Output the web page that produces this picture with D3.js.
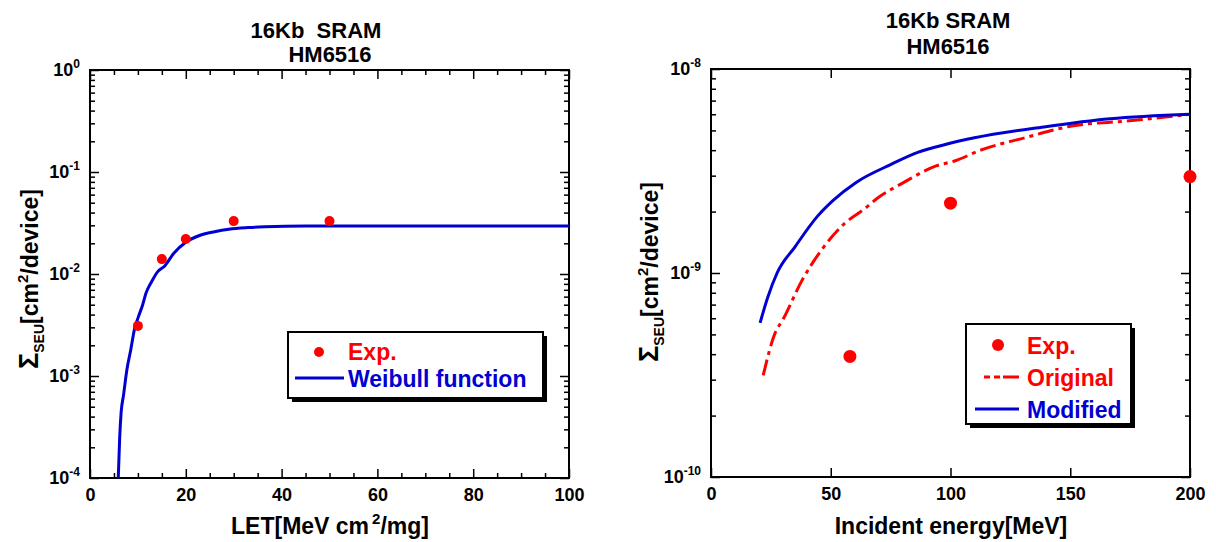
<html>
<head>
    <script src="https://d3js.org/d3.v7.min.js"></script>
    <style>
        body { margin: 0; background: #fff; }
        text { font-family: "Liberation Sans", Arial, sans-serif; font-weight: bold; }
        .tick line { stroke: #000; stroke-width: 1.5; }
        .domain { stroke: none; }
    </style>
</head>
<body>
<svg id="chartArea" width="1216" height="542"></svg>
<script>
    // ---- left panel data (LET vs cross section)
    const letExp = [10, 15, 20, 30, 50];
    const sigmaExp = [3.1e-3, 1.4e-2, 2.2e-2, 3.3e-2, 3.3e-2];
    const letWeibull = [5.9, 6.2, 6.5, 7, 7.7, 8.5, 9.3, 10.1, 11, 11.7, 12.8, 14.1, 15.6, 17.5, 20, 23, 26, 29, 33, 36.5, 45, 100];
    const sigmaWeibull = [1e-4, 2.5e-4, 4.4e-4, 6.5e-4, 1.15e-3, 1.8e-3, 2.9e-3, 3.8e-3, 5e-3, 6.5e-3, 8.3e-3, 1.05e-2, 1.2e-2, 1.6e-2, 2.05e-2, 2.4e-2, 2.6e-2, 2.75e-2, 2.85e-2, 2.9e-2, 2.95e-2, 2.95e-2];
    const letTicks = [0, 20, 40, 60, 80, 100];
    const leftDecades = [0, -1, -2, -3, -4];

    // ---- right panel data (incident energy vs cross section)
    const energyExp = [58, 100, 200];
    const sigmaExpE = [3.9e-10, 2.2e-9, 2.97e-9];
    const energyOrig = [21.8, 26.7, 30, 38, 46, 55.8, 63.8, 70, 79.8, 94, 102, 112, 131, 150.5, 174.6, 200];
    const sigmaOrig = [3.15e-10, 5.06e-10, 5.9e-10, 9.2e-10, 1.29e-9, 1.75e-9, 2.05e-9, 2.35e-9, 2.75e-9, 3.35e-9, 3.55e-9, 3.98e-9, 4.6e-9, 5.25e-9, 5.57e-9, 6.0e-9];
    const energyMod = [20.5, 23.7, 27.6, 35, 44.5, 51, 60.6, 75, 86.3, 99, 110, 139, 166.6, 200];
    const sigmaMod = [5.7e-10, 7.6e-10, 1.0e-9, 1.34e-9, 1.9e-9, 2.27e-9, 2.78e-9, 3.4e-9, 3.9e-9, 4.3e-9, 4.6e-9, 5.2e-9, 5.7e-9, 6.0e-9];
    const energyTicks = [0, 50, 100, 150, 200];
    const rightDecades = [-8, -9, -10];

    const RED = "#ff0000";
    const BLUE = "#0000d0";

    const svg = d3.select("#chartArea");

    function minorLogTicks(decades) {
        const lo = d3.min(decades), hi = d3.max(decades);
        const out = [];
        for (let e = lo; e < hi; e++) {
            for (let k = 2; k <= 9; k++) out.push(k * Math.pow(10, e));
        }
        return out;
    }

    // frame + axes for one panel
    function drawFrame(x, y, xTicks, xMinor, decades) {
        const [x0, x1] = x.range();
        const [y0, y1] = y.range();
        const g = svg.append("g");

        // bottom axis with labels
        g.append("g")
            .attr("transform", `translate(0,${y0})`)
            .call(d3.axisBottom(x).tickValues(xTicks).tickSizeInner(-9).tickSizeOuter(0).tickPadding(10))
            .call(s => s.selectAll("text").attr("font-size", 18).attr("fill", "#000"));
        g.append("g")
            .attr("transform", `translate(0,${y1})`)
            .call(d3.axisTop(x).tickValues(xTicks).tickSizeInner(-9).tickSizeOuter(0).tickFormat(""));
        if (xMinor.length) {
            g.append("g")
                .attr("transform", `translate(0,${y0})`)
                .call(d3.axisBottom(x).tickValues(xMinor).tickSizeInner(-5).tickSizeOuter(0).tickFormat(""));
            g.append("g")
                .attr("transform", `translate(0,${y1})`)
                .call(d3.axisTop(x).tickValues(xMinor).tickSizeInner(-5).tickSizeOuter(0).tickFormat(""));
        }

        const major = decades.map(e => Math.pow(10, e));
        const minor = minorLogTicks(decades);
        const leftAx = g.append("g")
            .attr("transform", `translate(${x0},0)`)
            .call(d3.axisLeft(y).tickValues(major).tickSizeInner(-9).tickSizeOuter(0).tickPadding(10));
        leftAx.selectAll("text")
            .attr("font-size", 18)
            .attr("fill", "#000")
            .each(function (d) {
                const t = d3.select(this);
                const e = Math.round(Math.log10(d));
                t.text("10");
                t.append("tspan").attr("font-size", 12).attr("dy", -8).text(e);
            });
        g.append("g")
            .attr("transform", `translate(${x1},0)`)
            .call(d3.axisRight(y).tickValues(major).tickSizeInner(-9).tickSizeOuter(0).tickFormat(""));
        g.append("g")
            .attr("transform", `translate(${x0},0)`)
            .call(d3.axisLeft(y).tickValues(minor).tickSizeInner(-5).tickSizeOuter(0).tickFormat(""));
        g.append("g")
            .attr("transform", `translate(${x1},0)`)
            .call(d3.axisRight(y).tickValues(minor).tickSizeInner(-5).tickSizeOuter(0).tickFormat(""));

        g.append("rect")
            .attr("x", x0).attr("y", y1)
            .attr("width", x1 - x0).attr("height", y0 - y1)
            .attr("fill", "none").attr("stroke", "#000").attr("stroke-width", 2);
    }

    function drawTitle(cx1, cx2, yA, yB, line1) {
        svg.append("text").attr("x", cx1).attr("y", yA).attr("text-anchor", "middle")
            .attr("font-size", 22).style("white-space", "pre").text(line1);
        svg.append("text").attr("x", cx2).attr("y", yB).attr("text-anchor", "middle")
            .attr("font-size", 22).text("HM6516");
    }

    function drawYLabel(px, py) {
        const t = svg.append("text")
            .attr("transform", `translate(${px},${py}) rotate(-90)`)
            .attr("text-anchor", "middle")
            .attr("font-size", 23);
        t.append("tspan").attr("font-size", 27).text("Σ");
        t.append("tspan").attr("font-size", 14).attr("dy", 6).text("SEU");
        t.append("tspan").attr("dy", -6).text("[cm");
        t.append("tspan").attr("font-size", 15).attr("dy", -10).text("2");
        t.append("tspan").attr("dy", 10).text("/device]");
    }

    function drawLegendBox(x, y, w, h) {
        svg.append("rect").attr("x", x + 4).attr("y", y + 4).attr("width", w).attr("height", h).attr("fill", "#000");
        svg.append("rect").attr("x", x).attr("y", y).attr("width", w).attr("height", h)
            .attr("fill", "#fff").attr("stroke", "#000").attr("stroke-width", 2);
    }

    // ================= left panel
    const xLet = d3.scaleLinear().domain([0, 100]).range([90, 569]);
    const yLeft = d3.scaleLog().domain([1e-4, 1]).range([478, 70]);
    drawFrame(xLet, yLeft, letTicks, d3.range(5, 100, 5).filter(v => v % 20 !== 0), leftDecades);

    const lineLet = d3.line()
        .x(d => xLet(d[0]))
        .y(d => yLeft(d[1]))
        .curve(d3.curveMonotoneX);
    svg.append("path")
        .attr("d", lineLet(d3.zip(letWeibull, sigmaWeibull)))
        .attr("fill", "none").attr("stroke", BLUE).attr("stroke-width", 3);

    svg.append("g").selectAll("circle")
        .data(d3.zip(letExp, sigmaExp))
        .join("circle")
        .attr("cx", d => xLet(d[0]))
        .attr("cy", d => yLeft(d[1]))
        .attr("r", 5)
        .attr("fill", RED);

    drawTitle(316, 330, 38, 62, "16Kb  SRAM");
    drawYLabel(38, 279);
    const xl = svg.append("text").attr("x", 330).attr("y", 534).attr("text-anchor", "middle").attr("font-size", 23);
    xl.append("tspan").text("LET[MeV cm");
    xl.append("tspan").attr("font-size", 15).attr("dx", 3).attr("dy", -10).text("2");
    xl.append("tspan").attr("dy", 10).text("/mg]");

    drawLegendBox(288, 332, 255, 66);
    svg.append("circle").attr("cx", 319).attr("cy", 352).attr("r", 5).attr("fill", RED);
    svg.append("text").attr("x", 348).attr("y", 360).attr("font-size", 23).attr("fill", RED).text("Exp.");
    svg.append("line").attr("x1", 295).attr("x2", 344).attr("y1", 378).attr("y2", 378)
        .attr("stroke", BLUE).attr("stroke-width", 3);
    svg.append("text").attr("x", 348).attr("y", 387).attr("font-size", 23).attr("fill", BLUE).text("Weibull function");

    // ================= right panel
    const xE = d3.scaleLinear().domain([0, 200]).range([711, 1190]);
    const yRight = d3.scaleLog().domain([1e-10, 1e-8]).range([477, 69]);
    drawFrame(xE, yRight, energyTicks, [], rightDecades);

    const lineE = d3.line()
        .x(d => xE(d[0]))
        .y(d => yRight(d[1]))
        .curve(d3.curveMonotoneX);
    svg.append("path")
        .attr("d", lineE(d3.zip(energyOrig, sigmaOrig)))
        .attr("fill", "none").attr("stroke", RED).attr("stroke-width", 3)
        .attr("stroke-dasharray", "16,5,4,5");
    svg.append("path")
        .attr("d", lineE(d3.zip(energyMod, sigmaMod)))
        .attr("fill", "none").attr("stroke", BLUE).attr("stroke-width", 3);

    svg.append("g").selectAll("circle")
        .data(d3.zip(energyExp, sigmaExpE))
        .join("circle")
        .attr("cx", d => xE(d[0]))
        .attr("cy", d => yRight(d[1]))
        .attr("r", 6.5)
        .attr("fill", RED);

    drawTitle(948, 948, 28, 54, "16Kb SRAM");
    drawYLabel(658, 272);
    svg.append("text").attr("x", 951).attr("y", 534).attr("text-anchor", "middle").attr("font-size", 23)
        .text("Incident energy[MeV]");

    drawLegendBox(966, 324, 165, 100);
    svg.append("circle").attr("cx", 998).attr("cy", 345).attr("r", 6).attr("fill", RED);
    svg.append("text").attr("x", 1027).attr("y", 354).attr("font-size", 23).attr("fill", RED).text("Exp.");
    svg.append("line").attr("x1", 984).attr("x2", 1019).attr("y1", 377).attr("y2", 377)
        .attr("stroke", RED).attr("stroke-width", 3).attr("stroke-dasharray", "6,4,6,3,30");
    svg.append("text").attr("x", 1027).attr("y", 386).attr("font-size", 23).attr("fill", RED).text("Original");
    svg.append("line").attr("x1", 975).attr("x2", 1019).attr("y1", 409).attr("y2", 409)
        .attr("stroke", BLUE).attr("stroke-width", 3);
    svg.append("text").attr("x", 1027).attr("y", 418).attr("font-size", 23).attr("fill", BLUE).text("Modified");
</script>
</body>
</html>
